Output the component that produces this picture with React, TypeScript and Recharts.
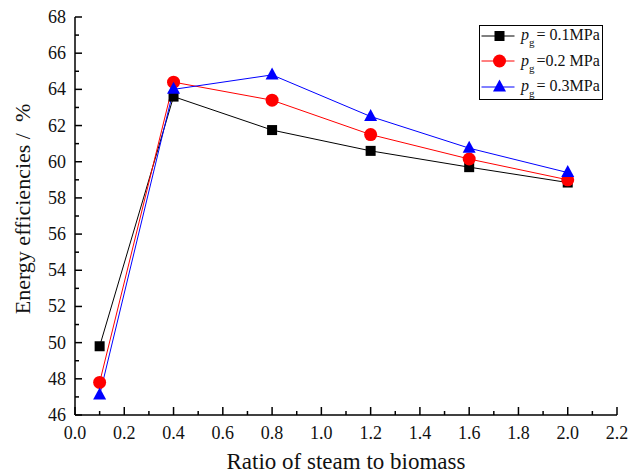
import React from 'react';
import { LineChart, Line, XAxis, YAxis, Legend } from 'recharts';

const ratios = [0.1, 0.4, 0.8, 1.2, 1.6, 2.0];
const eff01 = [49.8, 63.6, 61.75, 60.6, 59.7, 58.85];
const eff02 = [47.8, 64.4, 63.4, 61.5, 60.15, 59.0];
const eff03 = [47.1, 64.0, 64.8, 62.5, 60.75, 59.4];

const seriesKeys = ['p01', 'p02', 'p03'];
const seriesLabels = ['= 0.1MPa', '=0.2 MPa', '= 0.3MPa'];
const seriesColors = ['#000000', '#ff0000', '#0000ff'];
const seriesShapes = ['square', 'circle', 'triangle'];

const xTicks = [0, 0.1, 0.2, 0.3, 0.4, 0.5, 0.6, 0.7, 0.8, 0.9, 1.0, 1.1, 1.2, 1.3, 1.4, 1.5, 1.6, 1.7, 1.8, 1.9, 2.0, 2.1, 2.2];
const yTicks = [46, 47, 48, 49, 50, 51, 52, 53, 54, 55, 56, 57, 58, 59, 60, 61, 62, 63, 64, 65, 66, 67, 68];

const xTitle = 'Ratio of steam to biomass';
const yTitle = 'Energy efficiencies /\u00a0\u00a0%';

const FONT = '"Liberation Serif", "Times New Roman", Times, serif';
const textStyle = { fontFamily: FONT } as React.CSSProperties;

const data = ratios.map((r, i) => ({ x: r, p01: eff01[i], p02: eff02[i], p03: eff03[i] }));

const Marker = ({ shape, color, cx, cy }: { shape: string; color: string; cx: number; cy: number }) => {
  if (shape === 'square') return <rect x={cx - 5} y={cy - 5} width={10} height={10} fill={color} />;
  if (shape === 'circle') return <circle cx={cx} cy={cy} r={6.5} fill={color} />;
  return <polygon points={`${cx},${cy - 7.5} ${cx - 6.5},${cy + 4.5} ${cx + 6.5},${cy + 4.5}`} fill={color} />;
};

const makeDot = (shape: string, color: string) => (props: any) => {
  const { cx, cy, index } = props;
  if (cx == null || cy == null) return <g key={`d${index}`} />;
  return <Marker key={`d${shape}${index}`} shape={shape} color={color} cx={cx} cy={cy} />;
};

const isMajorX = (v: number) => Math.round(v * 10) % 2 === 0;
const isMajorY = (v: number) => Math.round(v) % 2 === 0;

const BottomTick = (props: any) => {
  const { x, y, payload } = props;
  const v = payload.value as number;
  const major = isMajorX(v);
  return (
    <g>
      <line x1={x} y1={y} x2={x} y2={y - (major ? 8 : 4)} stroke="#000" strokeWidth={1.5} />
      {major && (
        <text x={x} y={y + 24} textAnchor="middle" fontSize={18} style={textStyle} fill="#111">
          {v.toFixed(1)}
        </text>
      )}
    </g>
  );
};

const TopTick = (props: any) => {
  const { x, y } = props;
  return <line x1={x} y1={y} x2={x} y2={y + 3} stroke="#000" strokeWidth={1.2} />;
};

const LeftTick = (props: any) => {
  const { x, y, payload } = props;
  const v = payload.value as number;
  const major = isMajorY(v);
  return (
    <g>
      <line x1={x} y1={y} x2={x + (major ? 7 : 4)} y2={y} stroke="#000" strokeWidth={1.5} />
      {major && (
        <text x={x - 9} y={y + 6} textAnchor="end" fontSize={18} style={textStyle} fill="#111">
          {String(v)}
        </text>
      )}
    </g>
  );
};

const RightTick = (props: any) => {
  const { x, y } = props;
  return <line x1={x} y1={y} x2={x - 3} y2={y} stroke="#000" strokeWidth={1.2} />;
};

const YTitle = (props: any) => {
  const vb = props.viewBox || { x: 0, y: 17, width: 75, height: 398 };
  const cx = vb.x + 30;
  const cy = vb.y + vb.height / 2 - 7;
  return (
    <text
      x={cx}
      y={cy}
      transform={`rotate(-90 ${cx} ${cy})`}
      textAnchor="middle"
      fontSize={22}
      style={textStyle}
      fill="#111"
    >
      {yTitle}
    </text>
  );
};

const XTitle = (props: any) => {
  const vb = props.viewBox || { x: 75, y: 415, width: 542, height: 58 };
  const cx = vb.x + vb.width / 2;
  const cy = vb.y + 54;
  return (
    <text x={cx} y={cy} textAnchor="middle" fontSize={23} style={textStyle} fill="#111">
      {xTitle}
    </text>
  );
};

const LegendBox = () => (
  <div
    style={{
      width: 124,
      height: 75,
      boxSizing: 'border-box',
      border: '1.5px solid #000',
      background: '#fff',
      fontFamily: FONT,
      color: '#111',
    }}
  >
    <div style={{ marginTop: -3 }}>
      {seriesKeys.map((k, i) => (
        <div key={k} style={{ display: 'flex', alignItems: 'center', height: 25.5 }}>
          <svg width={38} height={20} style={{ display: 'block' }}>
            <line x1={1.5} y1={10} x2={34.5} y2={10} stroke={seriesColors[i]} strokeWidth={1} />
            <Marker shape={seriesShapes[i]} color={seriesColors[i]} cx={19.5} cy={10} />
          </svg>
          <span style={{ fontSize: 16, marginLeft: 3, whiteSpace: 'nowrap', lineHeight: '16px' }}>
            <i>p</i>
            <span style={{ fontSize: 11, position: 'relative', top: 6, marginRight: 2 }}>g</span>
            {seriesLabels[i]}
          </span>
        </div>
      ))}
    </div>
  </div>
);

export default function App() {
  return (
    <div style={{ position: 'absolute', left: 0, top: 0, width: 630, height: 473, background: '#fff', fontFamily: FONT }}>
      <LineChart width={630} height={473} data={data} margin={{ top: 17, right: 13, bottom: 0, left: 0 }}>
        <XAxis
          dataKey="x"
          type="number"
          domain={[0, 2.2]}
          ticks={xTicks}
          interval={0}
          tickLine={false}
          tickSize={0}
          tickMargin={0}
          height={58}
          axisLine={{ stroke: '#000', strokeWidth: 1.5 }}
          tick={<BottomTick />}
          label={{ value: xTitle, content: XTitle }}
        />
        <XAxis
          xAxisId="top"
          dataKey="x"
          type="number"
          orientation="top"
          domain={[0, 2.2]}
          ticks={xTicks}
          interval={0}
          tickLine={false}
          tickSize={0}
          tickMargin={0}
          height={0}
          axisLine={{ stroke: '#000', strokeWidth: 1.5 }}
          tick={<TopTick />}
        />
        <YAxis
          type="number"
          domain={[46, 68]}
          ticks={yTicks}
          interval={0}
          tickLine={false}
          tickSize={0}
          tickMargin={0}
          width={75}
          axisLine={{ stroke: '#000', strokeWidth: 1.5 }}
          tick={<LeftTick />}
          label={{ value: yTitle, content: YTitle }}
        />
        <YAxis
          yAxisId="right"
          type="number"
          orientation="right"
          domain={[46, 68]}
          ticks={yTicks}
          interval={0}
          tickLine={false}
          tickSize={0}
          tickMargin={0}
          width={0}
          axisLine={{ stroke: '#000', strokeWidth: 1.5 }}
          tick={<RightTick />}
        />
        <Legend
          layout="vertical"
          align="center"
          verticalAlign="middle"
          content={<LegendBox />}
          wrapperStyle={{ left: 479, top: 25, width: 124, height: 75 }}
        />
        {seriesKeys.map((k, i) => (
          <Line
            key={k}
            dataKey={k}
            name={seriesLabels[i]}
            stroke={seriesColors[i]}
            strokeWidth={1}
            dot={makeDot(seriesShapes[i], seriesColors[i])}
            activeDot={false}
            isAnimationActive={false}
          />
        ))}
      </LineChart>
    </div>
  );
}
